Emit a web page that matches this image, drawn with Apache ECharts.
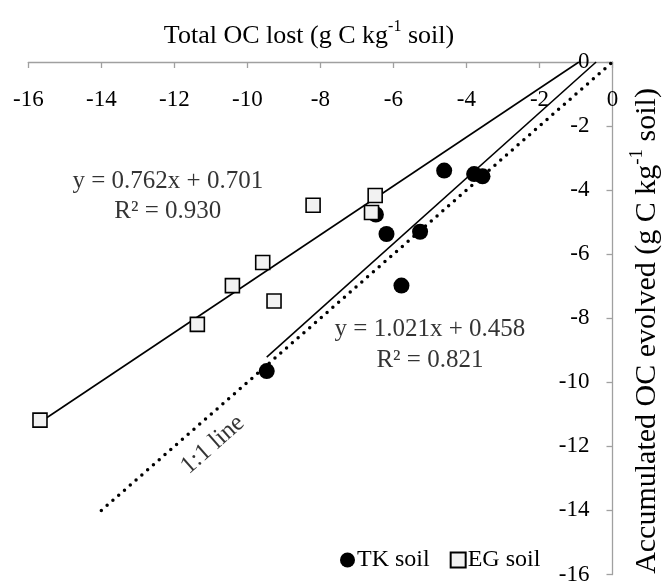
<!DOCTYPE html>
<html><head><meta charset="utf-8">
<script src="https://cdn.jsdelivr.net/npm/echarts@6/dist/echarts.min.js"></script>
<style>html,body{margin:0;padding:0;background:#fff}#c{width:662px;height:586px}</style>
</head><body><div id="c"></div>
<script>
// TK soil (filled circles)
const tkX = [-4.61, -3.79, -3.56, -6.48, -6.19, -5.27, -5.78, -9.47];
const tkY = [-3.39, -3.50, -3.57, -4.76, -5.37, -5.30, -6.98, -9.65];
// EG soil (open squares)
const egX = [-15.68, -11.37, -10.41, -9.58, -9.27, -8.20, -6.50, -6.60];
const egY = [-11.18, -8.19, -6.98, -6.26, -7.46, -4.47, -4.17, -4.70];
// Linear fits shown on the chart
const tkFit = { slope: 1.021, intercept: 0.458, r2: '0.821' };
const egFit = { slope: 0.762, intercept: 0.701, r2: '0.930' };
// 1:1 reference line range
const oneToOneRange = [-14, 0];
// axis ranges
const xRange = [-16, 0];
const yRange = [-16, 0];
const tickStep = 2;

const FONT = 'Liberation Serif';
const chart = echarts.init(document.getElementById('c'), null, { renderer: 'canvas' });

function fitLine(xs, fit) {
  const x0 = Math.min(...xs);
  const x1 = -fit.intercept / fit.slope; // where fit reaches y = 0 (top of plot)
  return [[x0, fit.slope * x0 + fit.intercept], [x1, 0]];
}
const pts = (xs, ys) => xs.map((x, i) => [x, ys[i]]);

function supRich(size) {
  return {
    n: { fontFamily: FONT, fontSize: size, fontWeight: 'normal', color: '#000', lineHeight: size + 4, verticalAlign: 'bottom' },
    s: { fontFamily: FONT, fontSize: Math.round(size * 0.62), fontWeight: 'normal', color: '#000', lineHeight: size + 4, verticalAlign: 'top' }
  };
}

const annotations = [
  { value: [-12.18, -3.74], text: 'y = 0.762x + 0.701', rot: 0 },
  { value: [-12.18, -4.67], text: 'R² = ' + egFit.r2, rot: 0 },
  { value: [-5.0, -8.35], text: 'y = 1.021x + 0.458', rot: 0 },
  { value: [-5.0, -9.31], text: 'R² = ' + tkFit.r2, rot: 0 },
  { value: [-10.95, -11.95], text: '1:1 line', rot: 41.5 }
];

const option = {
  animation: false,
  backgroundColor: '#fff',
  textStyle: { fontFamily: FONT },
  grid: { left: 28.3, right: 49.5, top: 62, bottom: 6.7, containLabel: false },
  legend: {
    data: ['TK soil', 'EG soil'],
    left: 335, top: 543,
    itemWidth: 15, itemHeight: 15, itemGap: 20,
    textStyle: { fontFamily: FONT, fontSize: 24, color: '#000', padding: [0, 0, 0, -3] }
  },
  xAxis: {
    type: 'value', position: 'top',
    min: xRange[0], max: xRange[1], interval: tickStep,
    axisLine: { onZero: false, lineStyle: { color: '#a0a0a0', width: 1.3 } },
    axisTick: { inside: true, length: 6, lineStyle: { color: '#a0a0a0', width: 1.3 } },
    axisLabel: { inside: true, margin: 26, fontFamily: FONT, fontSize: 23, color: '#000' },
    splitLine: { show: false }
  },
  yAxis: {
    type: 'value', position: 'right',
    min: yRange[0], max: yRange[1], interval: tickStep,
    axisLine: { show: true, onZero: false, lineStyle: { color: '#a0a0a0', width: 1.3 } },
    axisTick: { show: true, inside: true, length: 6, lineStyle: { color: '#a0a0a0', width: 1.3 } },
    axisLabel: { inside: true, margin: 23, fontFamily: FONT, fontSize: 23, color: '#000' },
    splitLine: { show: false }
  },
  graphic: [
    {
      type: 'text', x: 309, y: 34,
      style: {
        text: '{n|Total OC lost (g C kg}{s|-1}{n| soil)}',
        rich: supRich(26), align: 'center', verticalAlign: 'middle'
      }
    },
    {
      type: 'text', x: 645, y: 331, rotation: Math.PI / 2,
      style: {
        text: '{n|Accumulated OC evolved (g C kg}{s|-1}{n| soil)}',
        rich: supRich(30), align: 'center', verticalAlign: 'middle'
      }
    }
  ],
  series: [
    {
      name: '1:1', type: 'line', data: [[oneToOneRange[0], oneToOneRange[0]], [oneToOneRange[1], oneToOneRange[1]]],
      symbol: 'none', silent: true, z: 1,
      lineStyle: { color: '#000', width: 3.5, type: [0, 7.7], cap: 'round' }
    },
    {
      name: 'EG fit', type: 'line', data: fitLine(egX, egFit), symbol: 'none', silent: true, z: 1,
      lineStyle: { color: '#000', width: 1.6 }
    },
    {
      name: 'TK fit', type: 'line', data: fitLine(tkX, tkFit), symbol: 'none', silent: true, z: 1,
      lineStyle: { color: '#000', width: 1.6 }
    },
    {
      name: 'TK soil', type: 'scatter', data: pts(tkX, tkY), symbol: 'circle', symbolSize: 16, z: 3,
      itemStyle: { color: '#000', opacity: 1 }
    },
    {
      name: 'EG soil', type: 'scatter', data: pts(egX, egY), symbol: 'rect', symbolSize: 14, z: 4,
      itemStyle: { color: '#f2f2f2', borderColor: '#000', borderWidth: 1.6, opacity: 1 }
    },
    {
      name: 'notes', type: 'scatter', symbolSize: 0, silent: true, z: 5,
      data: annotations.map(a => ({
        value: a.value,
        label: {
          show: true, position: 'inside', formatter: a.text, rotate: a.rot,
          fontFamily: FONT, fontSize: 25, color: '#000'
        }
      }))
    }
  ]
};
chart.setOption(option);
</script>
</body></html>
